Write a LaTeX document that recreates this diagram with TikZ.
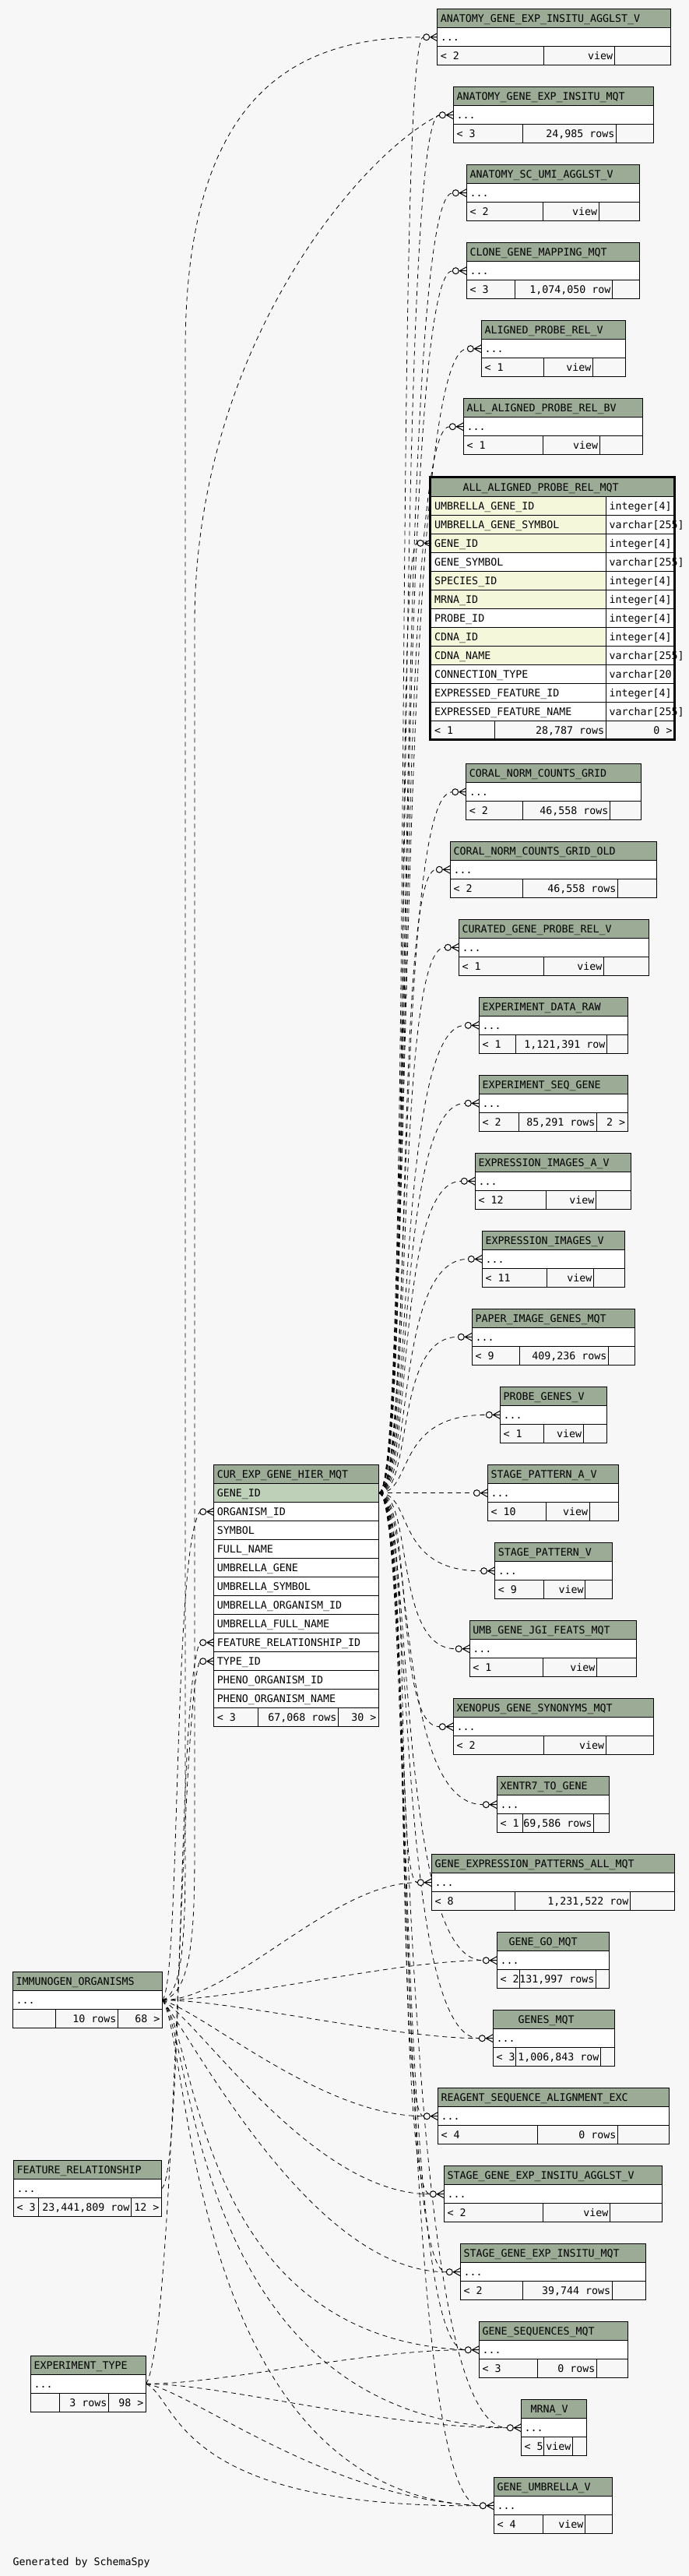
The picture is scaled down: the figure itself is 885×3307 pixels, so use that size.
\documentclass[tikz,border=0pt]{standalone}
\usepackage{fontspec}
\newfontfamily\tablefont{DejaVu Sans Mono}

\definecolor{pagebg}{HTML}{F7F7F7}
\definecolor{headfill}{HTML}{9BAB96}
\definecolor{keyfill}{HTML}{F4F7DA}
\definecolor{pkfill}{HTML}{BED1B8}

\pgfdeclarelayer{bg}
\pgfdeclarelayer{links}
\pgfsetlayers{bg,links,main}

\tikzset{
  tbl/.style={draw=black, line width=1pt},
  txt/.style={anchor=base west, inner sep=0pt, font=\tablefont\fontsize{13.3}{16}\selectfont},
  rtxt/.style={txt, anchor=base east},
  fk/.style={line width=0.8pt, dash pattern=on 6pt off 5pt}
}

% footer cells: id, left, top, right, split, then left/middle/right texts
\def\splitfoot#1#2#3#4#5#6/#7/#8\relax{%
  \node[txt] (#1-f1) at (#2+4,#3+65) {#6};
  \node[rtxt] (#1-f2) at (#5-2,#3+65) {#7};
  \node[rtxt] (#1-f3) at (#4-3,#3+65) {#8};}

% [title offset]{id}{left}{top}{right}{split 1}{split 2}{title}{footer a/b/c}
\newcommand{\smalltable}[9][4]{%
  \fill[headfill] (#3,#4) rectangle (#5,#4+24);
  \fill[white] (#3,#4+24) rectangle (#5,#4+48);
  \fill[pagebg] (#3,#4+48) rectangle (#5,#4+72);
  \draw[tbl] (#3,#4) rectangle (#5,#4+72) (#3,#4+24) -- (#5,#4+24)
    (#3,#4+48) -- (#5,#4+48) (#6,#4+48) -- (#6,#4+72) (#7,#4+48) -- (#7,#4+72);
  \node[txt] (#2-t) at (#3+#1,#4+17) {#8};
  \node[txt] (#2-r) at (#3+4,#4+41) {...};
  \coordinate (#2-w) at (#3,#4+36);
  \coordinate (#2-in) at (#3-18,#4+36);
  \coordinate (#2-e) at (#5,#4+36);
  \splitfoot{#2}{#3}{#4}{#5}{#7}#9\relax}

% zero-or-many end
\newcommand{\crowfoot}[1]{%
  \draw[tbl,shift={(#1-w)}] (-9,0) -- (0,-5) (-9,0) -- (0,5) (-9,0) -- (0,0);
  \draw[tbl,fill=pagebg,shift={(#1-w)}] (-14,0) circle[radius=4pt];}

\begin{document}
\begin{tikzpicture}[x=1pt,y=-1pt]
  \useasboundingbox (0,0) rectangle (885,3307);
  \begin{pgfonlayer}{bg}
    \fill[pagebg] (0,0) rectangle (885,3307);
  \end{pgfonlayer}

  \smalltable{agv}{561.7}{11.7}{861.7}{698.3}{789.3}{ANATOMY\_GENE\_EXP\_INSITU\_AGGLST\_V}{< 2/view/}
  \smalltable{agm}{582.3}{111.7}{839.3}{671.7}{791.7}{ANATOMY\_GENE\_EXP\_INSITU\_MQT}{< 3/24,985 rows/}
  \smalltable{asu}{599.3}{211.7}{821.7}{697.3}{769.3}{ANATOMY\_SC\_UMI\_AGGLST\_V}{< 2/view/}
  \smalltable{cgm}{599.3}{311.7}{821.7}{661.7}{786.7}{CLONE\_GENE\_MAPPING\_MQT}{< 3/1,074,050 row/}
  \smalltable{apr}{618.3}{411.7}{803.3}{698.3}{761.7}{ALIGNED\_PROBE\_REL\_V}{< 1/view/}
  \smalltable{aab}{595.3}{511.7}{825.3}{697.3}{770.3}{ALL\_ALIGNED\_PROBE\_REL\_BV}{< 1/view/}
  \smalltable{cnc}{598.7}{980.7}{823.3}{671.7}{783.7}{CORAL\_NORM\_COUNTS\_GRID}{< 2/46,558 rows/}
  \smalltable{cno}{578.3}{1080.3}{843.3}{671.7}{793.7}{CORAL\_NORM\_COUNTS\_GRID\_OLD}{< 2/46,558 rows/}
  \smalltable{cgp}{589.3}{1180.3}{833.3}{698.3}{775.7}{CURATED\_GENE\_PROBE\_REL\_V}{< 1/view/}
  \smalltable{edr}{615.3}{1280.3}{806.3}{662.7}{779.7}{EXPERIMENT\_DATA\_RAW}{< 1/1,121,391 row/}
  \smalltable{esg}{615.3}{1380.3}{806.3}{666.7}{766.7}{EXPERIMENT\_SEQ\_GENE}{< 2/85,291 rows/2 >}
  \smalltable{eia}{610.3}{1480.3}{810.3}{701.7}{765.7}{EXPRESSION\_IMAGES\_A\_V}{< 12/view/}
  \smalltable{eiv}{619.3}{1580.3}{802.3}{702.7}{762.7}{EXPRESSION\_IMAGES\_V}{< 11/view/}
  \smalltable{pig}{606.3}{1680.3}{815.3}{667.7}{781.7}{PAPER\_IMAGE\_GENES\_MQT}{< 9/409,236 rows/}
  \smalltable{pgv}{642.3}{1780.3}{779.3}{698.7}{749.3}{PROBE\_GENES\_V}{< 1/view/}
  \smalltable{spa}{626.4}{1880.7}{794.6}{701.5}{757.4}{STAGE\_PATTERN\_A\_V}{< 10/view/}
  \smalltable{spv}{635.6}{1980.7}{786.3}{698.5}{751.8}{STAGE\_PATTERN\_V}{< 9/view/}
  \smalltable{ugj}{603.2}{2080.7}{817.3}{697.6}{766.6}{UMB\_GENE\_JGI\_FEATS\_MQT}{< 1/view/}
  \smalltable{xgs}{582.3}{2180.7}{839.3}{698.3}{778.3}{XENOPUS\_GENE\_SYNONYMS\_MQT}{< 2/view/}
  \smalltable{xtg}{638.3}{2280.7}{782.3}{671.7}{762.7}{XENTR7\_TO\_GENE}{< 1/69,586 rows/}
  \smalltable{gep}{554.3}{2380.7}{866.7}{661.7}{809.7}{GENE\_EXPRESSION\_PATTERNS\_ALL\_MQT}{< 8/1,231,522 row/}
  \smalltable[15]{ggo}{638.3}{2480.7}{782.3}{667.7}{765.7}{GENE\_GO\_MQT}{< 2/131,997 rows/}
  \smalltable[32]{gmq}{633.3}{2580.7}{789.7}{662.7}{771.7}{GENES\_MQT}{< 3/1,006,843 row/}
  \smalltable{rsa}{562.3}{2680.7}{859.7}{690.7}{793.7}{REAGENT\_SEQUENCE\_ALIGNMENT\_EXC}{< 4/0 rows/}
  \smalltable{sga}{570.3}{2780.7}{850.3}{697.7}{783.7}{STAGE\_GENE\_EXP\_INSITU\_AGGLST\_V}{< 2/view/}
  \smalltable{sgm}{591.3}{2880.7}{829.3}{671.7}{786.3}{STAGE\_GENE\_EXP\_INSITU\_MQT}{< 2/39,744 rows/}
  \smalltable{gsq}{615.3}{2980.7}{806.3}{690.7}{766.7}{GENE\_SEQUENCES\_MQT}{< 3/0 rows/}
  \smalltable[12]{mrv}{669.3}{3080.7}{753.7}{698.7}{735.7}{MRNA\_V}{< 5/view/}
  \smalltable{guv}{634.3}{3180.7}{786.3}{697.7}{751.7}{GENE\_UMBRELLA\_V}{< 4/view/}
  \smalltable{imo}{16.3}{2531.7}{208.7}{71.7}{151.7}{IMMUNOGEN\_ORGANISMS}{/10 rows/68 >}
  \smalltable{fre}{17.3}{2773.7}{207.7}{49.3}{168.7}{FEATURE\_RELATIONSHIP}{< 3/23,441,809 row/12 >}
  \smalltable{ext}{39.3}{3024.3}{187.7}{76.7}{139.7}{EXPERIMENT\_TYPE}{/3 rows/98 >}

  % focus table
  \fill[headfill] (554,613.3) rectangle (866.7,637.3);
  \fill[keyfill] (554,637.3) rectangle (778.3,709.3) (554,733.3) rectangle (778.3,781.3)
    (554,805.3) rectangle (778.3,853.3);
  \fill[white] (554,709.3) rectangle (778.3,733.3) (554,781.3) rectangle (778.3,805.3)
    (554,853.3) rectangle (778.3,925.3) (778.3,637.3) rectangle (866.7,925.3);
  \fill[pagebg] (554,925.3) rectangle (866.7,949.3);
  \draw[tbl] (554,637.3) -- (866.7,637.3) (554,661.3) -- (866.7,661.3) (554,685.3) -- (866.7,685.3)
    (554,709.3) -- (866.7,709.3) (554,733.3) -- (866.7,733.3) (554,757.3) -- (866.7,757.3)
    (554,781.3) -- (866.7,781.3) (554,805.3) -- (866.7,805.3) (554,829.3) -- (866.7,829.3)
    (554,853.3) -- (866.7,853.3) (554,877.3) -- (866.7,877.3) (554,901.3) -- (866.7,901.3)
    (554,925.3) -- (866.7,925.3) (778.3,637.3) -- (778.3,949.3) (635.3,925.3) -- (635.3,949.3);
  \node[txt] (aap-t) at (594.3,630.3) {ALL\_ALIGNED\_PROBE\_REL\_MQT};
  \node[txt] (aap-c1) at (558,654.3) {UMBRELLA\_GENE\_ID};
  \node[txt] (aap-c2) at (558,678.3) {UMBRELLA\_GENE\_SYMBOL};
  \node[txt] (aap-c3) at (558,702.3) {GENE\_ID};
  \node[txt] (aap-c4) at (558,726.3) {GENE\_SYMBOL};
  \node[txt] (aap-c5) at (558,750.3) {SPECIES\_ID};
  \node[txt] (aap-c6) at (558,774.3) {MRNA\_ID};
  \node[txt] (aap-c7) at (558,798.3) {PROBE\_ID};
  \node[txt] (aap-c8) at (558,822.3) {CDNA\_ID};
  \node[txt] (aap-c9) at (558,846.3) {CDNA\_NAME};
  \node[txt] (aap-c10) at (558,870.3) {CONNECTION\_TYPE};
  \node[txt] (aap-c11) at (558,894.3) {EXPRESSED\_FEATURE\_ID};
  \node[txt] (aap-c12) at (558,918.3) {EXPRESSED\_FEATURE\_NAME};
  \node[txt] (aap-d1) at (782.3,654.3) {integer[4]};
  \node[txt] (aap-d2) at (782.3,678.3) {varchar[255]};
  \node[txt] (aap-d3) at (782.3,702.3) {integer[4]};
  \node[txt] (aap-d4) at (782.3,726.3) {varchar[255]};
  \node[txt] (aap-d5) at (782.3,750.3) {integer[4]};
  \node[txt] (aap-d6) at (782.3,774.3) {integer[4]};
  \node[txt] (aap-d7) at (782.3,798.3) {integer[4]};
  \node[txt] (aap-d8) at (782.3,822.3) {integer[4]};
  \node[txt] (aap-d9) at (782.3,846.3) {varchar[255]};
  \node[txt] (aap-d10) at (782.3,870.3) {varchar[20]};
  \node[txt] (aap-d11) at (782.3,894.3) {integer[4]};
  \node[txt] (aap-d12) at (782.3,918.3) {varchar[255]};
  \node[txt] (aap-f1) at (558,942.3) {< 1};
  \node[rtxt] (aap-f2) at (776.3,942.3) {28,787 rows};
  \node[rtxt] (aap-f3) at (863.7,942.3) {0 >};
  \draw[line width=3.4pt] (552.4,612.7) rectangle (866.6,949.3);
  \coordinate (aap-gene-w) at (554,697.3);
  \coordinate (aap-gene-in) at (536,697.3);

  % gene hierarchy table
  \fill[headfill] (274.7,1880.7) rectangle (486.6,1904.7);
  \fill[pkfill] (274.7,1904.7) rectangle (486.6,1928.7);
  \fill[white] (274.7,1928.7) rectangle (486.6,2192.7);
  \fill[pagebg] (274.7,2192.7) rectangle (486.6,2216.7);
  \draw[tbl] (274.7,1880.7) rectangle (486.6,2216.7)
    (274.7,1904.7) -- (486.6,1904.7) (274.7,1928.7) -- (486.6,1928.7) (274.7,1952.7) -- (486.6,1952.7)
    (274.7,1976.7) -- (486.6,1976.7) (274.7,2000.7) -- (486.6,2000.7) (274.7,2024.7) -- (486.6,2024.7)
    (274.7,2048.7) -- (486.6,2048.7) (274.7,2072.7) -- (486.6,2072.7) (274.7,2096.7) -- (486.6,2096.7)
    (274.7,2120.7) -- (486.6,2120.7) (274.7,2144.7) -- (486.6,2144.7) (274.7,2168.7) -- (486.6,2168.7)
    (274.7,2192.7) -- (486.6,2192.7) (331.5,2192.7) -- (331.5,2216.7) (434.6,2192.7) -- (434.6,2216.7);
  \node[txt] (ceg-t) at (278.7,1897.7) {CUR\_EXP\_GENE\_HIER\_MQT};
  \node[txt] (ceg-c1) at (278.7,1921.7) {GENE\_ID};
  \node[txt] (ceg-c2) at (278.7,1945.7) {ORGANISM\_ID};
  \node[txt] (ceg-c3) at (278.7,1969.7) {SYMBOL};
  \node[txt] (ceg-c4) at (278.7,1993.7) {FULL\_NAME};
  \node[txt] (ceg-c5) at (278.7,2017.7) {UMBRELLA\_GENE};
  \node[txt] (ceg-c6) at (278.7,2041.7) {UMBRELLA\_SYMBOL};
  \node[txt] (ceg-c7) at (278.7,2065.7) {UMBRELLA\_ORGANISM\_ID};
  \node[txt] (ceg-c8) at (278.7,2089.7) {UMBRELLA\_FULL\_NAME};
  \node[txt] (ceg-c9) at (278.7,2113.7) {FEATURE\_RELATIONSHIP\_ID};
  \node[txt] (ceg-c10) at (278.7,2137.7) {TYPE\_ID};
  \node[txt] (ceg-c11) at (278.7,2161.7) {PHENO\_ORGANISM\_ID};
  \node[txt] (ceg-c12) at (278.7,2185.7) {PHENO\_ORGANISM\_NAME};
  \node[txt] (ceg-f1) at (278.7,2209.7) {< 3};
  \node[rtxt] (ceg-f2) at (432.6,2209.7) {67,068 rows};
  \node[rtxt] (ceg-f3) at (483.6,2209.7) {30 >};
  \coordinate (ceg-gene-e) at (486.6,1916.7);
  \coordinate (ceg-org-w) at (274.7,1940.7);
  \coordinate (ceg-org-in) at (256.7,1940.7);
  \coordinate (ceg-frel-w) at (274.7,2108.7);
  \coordinate (ceg-frel-in) at (256.7,2108.7);
  \coordinate (ceg-type-w) at (274.7,2132.7);
  \coordinate (ceg-type-in) at (256.7,2132.7);
  \coordinate (bundle) at (505,0);

  \node[txt] (credit) at (16.3,3293) {Generated by SchemaSpy};

  \begin{pgfonlayer}{links}
  % GENE_ID to its children
  \draw[fk] (ceg-gene-e) .. controls +(45,0) and (bundle |- agv-in) .. (agv-in);
  \draw[fk] (ceg-gene-e) .. controls +(45,0) and (bundle |- agm-in) .. (agm-in);
  \draw[fk] (ceg-gene-e) .. controls +(45,0) and (bundle |- asu-in) .. (asu-in);
  \draw[fk] (ceg-gene-e) .. controls +(45,0) and (bundle |- cgm-in) .. (cgm-in);
  \draw[fk] (ceg-gene-e) .. controls +(45,0) and (bundle |- apr-in) .. (apr-in);
  \draw[fk] (ceg-gene-e) .. controls +(45,0) and (bundle |- aab-in) .. (aab-in);
  \draw[fk] (ceg-gene-e) .. controls +(45,0) and (bundle |- aap-gene-in) .. (aap-gene-in);
  \draw[fk] (ceg-gene-e) .. controls +(45,0) and (bundle |- cnc-in) .. (cnc-in);
  \draw[fk] (ceg-gene-e) .. controls +(45,0) and (bundle |- cno-in) .. (cno-in);
  \draw[fk] (ceg-gene-e) .. controls +(45,0) and (bundle |- cgp-in) .. (cgp-in);
  \draw[fk] (ceg-gene-e) .. controls +(45,0) and (bundle |- edr-in) .. (edr-in);
  \draw[fk] (ceg-gene-e) .. controls +(45,0) and (bundle |- esg-in) .. (esg-in);
  \draw[fk] (ceg-gene-e) .. controls +(45,0) and (bundle |- eia-in) .. (eia-in);
  \draw[fk] (ceg-gene-e) .. controls +(45,0) and (bundle |- eiv-in) .. (eiv-in);
  \draw[fk] (ceg-gene-e) .. controls +(45,0) and (bundle |- pig-in) .. (pig-in);
  \draw[fk] (ceg-gene-e) .. controls +(45,0) and (bundle |- pgv-in) .. (pgv-in);
  \draw[fk] (ceg-gene-e) -- (spa-in);
  \draw[fk] (ceg-gene-e) .. controls +(45,0) and (bundle |- spv-in) .. (spv-in);
  \draw[fk] (ceg-gene-e) .. controls +(45,0) and (bundle |- ugj-in) .. (ugj-in);
  \draw[fk] (ceg-gene-e) .. controls +(45,0) and (bundle |- xgs-in) .. (xgs-in);
  \draw[fk] (ceg-gene-e) .. controls +(45,0) and (bundle |- xtg-in) .. (xtg-in);
  \draw[fk] (ceg-gene-e) .. controls +(45,0) and (bundle |- gep-in) .. (gep-in);
  \draw[fk] (ceg-gene-e) .. controls +(45,0) and (bundle |- ggo-in) .. (ggo-in);
  \draw[fk] (ceg-gene-e) .. controls +(45,0) and (bundle |- gmq-in) .. (gmq-in);
  \draw[fk] (ceg-gene-e) .. controls +(45,0) and (bundle |- rsa-in) .. (rsa-in);
  \draw[fk] (ceg-gene-e) .. controls +(45,0) and (bundle |- sga-in) .. (sga-in);
  \draw[fk] (ceg-gene-e) .. controls +(45,0) and (bundle |- sgm-in) .. (sgm-in);
  \draw[fk] (ceg-gene-e) .. controls +(45,0) and (bundle |- gsq-in) .. (gsq-in);
  \draw[fk] (ceg-gene-e) .. controls +(45,0) and (bundle |- mrv-in) .. (mrv-in);
  \draw[fk] (ceg-gene-e) .. controls +(45,0) and (bundle |- guv-in) .. (guv-in);

  % organisms
  \draw[fk] (imo-e) .. controls (232,2540) and (222,1990) .. (ceg-org-in);
  \draw[fk] (imo-e) .. controls (235,2560) and (238,2480) .. (238,2380) -- (238,450)
    .. controls (238,120) and (380,47.7) .. (agv-in);
  \draw[fk] (imo-e) .. controls (248,2560) and (250,2470) .. (250,2370) -- (250,800)
    .. controls (250,450) and (460,200) .. (agm-in);
  \draw[fk] (imo-e) .. controls +(90,0) and +(-110,0) .. (gep-in);
  \draw[fk] (imo-e) .. controls +(90,0) and +(-110,0) .. (ggo-in);
  \draw[fk] (imo-e) .. controls +(90,0) and +(-110,0) .. (gmq-in);
  \draw[fk] (imo-e) .. controls +(60,20) and +(-130,0) .. (rsa-in);
  \draw[fk] (imo-e) .. controls +(50,30) and +(-150,0) .. (sga-in);
  \draw[fk] (imo-e) .. controls +(45,60) and +(-170,0) .. (sgm-in);
  \draw[fk] (imo-e) .. controls (255,2620) and (250,3000) .. (gsq-in);
  \draw[fk] (imo-e) .. controls (250,2620) and (245,3100) .. (mrv-in);
  \draw[fk] (imo-e) .. controls (245,2620) and (240,3200) .. (guv-in);

  \draw[fk] (fre-e) .. controls (235,2790) and (228,2170) .. (ceg-frel-in);

  % experiment type
  \draw[fk] (ext-e) .. controls (225,3000) and (232,2180) .. (ceg-type-in);
  \draw[fk] (ext-e) .. controls +(100,0) and +(-130,0) .. (gsq-in);
  \draw[fk] (ext-e) .. controls +(100,0) and +(-160,0) .. (mrv-in);
  \draw[fk] (ext-e) .. controls +(60,10) and +(-200,-10) .. (guv-in);
  \draw[fk] (ext-e) .. controls (230,3080) and (220,3220) .. (guv-in);
  \end{pgfonlayer}

  \crowfoot{agv} \crowfoot{agm} \crowfoot{asu} \crowfoot{cgm} \crowfoot{apr}
  \crowfoot{aab} \crowfoot{aap-gene} \crowfoot{cnc} \crowfoot{cno} \crowfoot{cgp}
  \crowfoot{edr} \crowfoot{esg} \crowfoot{eia} \crowfoot{eiv} \crowfoot{pig}
  \crowfoot{pgv} \crowfoot{spa} \crowfoot{spv} \crowfoot{ugj} \crowfoot{xgs}
  \crowfoot{xtg} \crowfoot{gep} \crowfoot{ggo} \crowfoot{gmq} \crowfoot{rsa}
  \crowfoot{sga} \crowfoot{sgm} \crowfoot{gsq} \crowfoot{mrv} \crowfoot{guv}
  \crowfoot{ceg-org} \crowfoot{ceg-frel} \crowfoot{ceg-type}
\end{tikzpicture}
\end{document}
